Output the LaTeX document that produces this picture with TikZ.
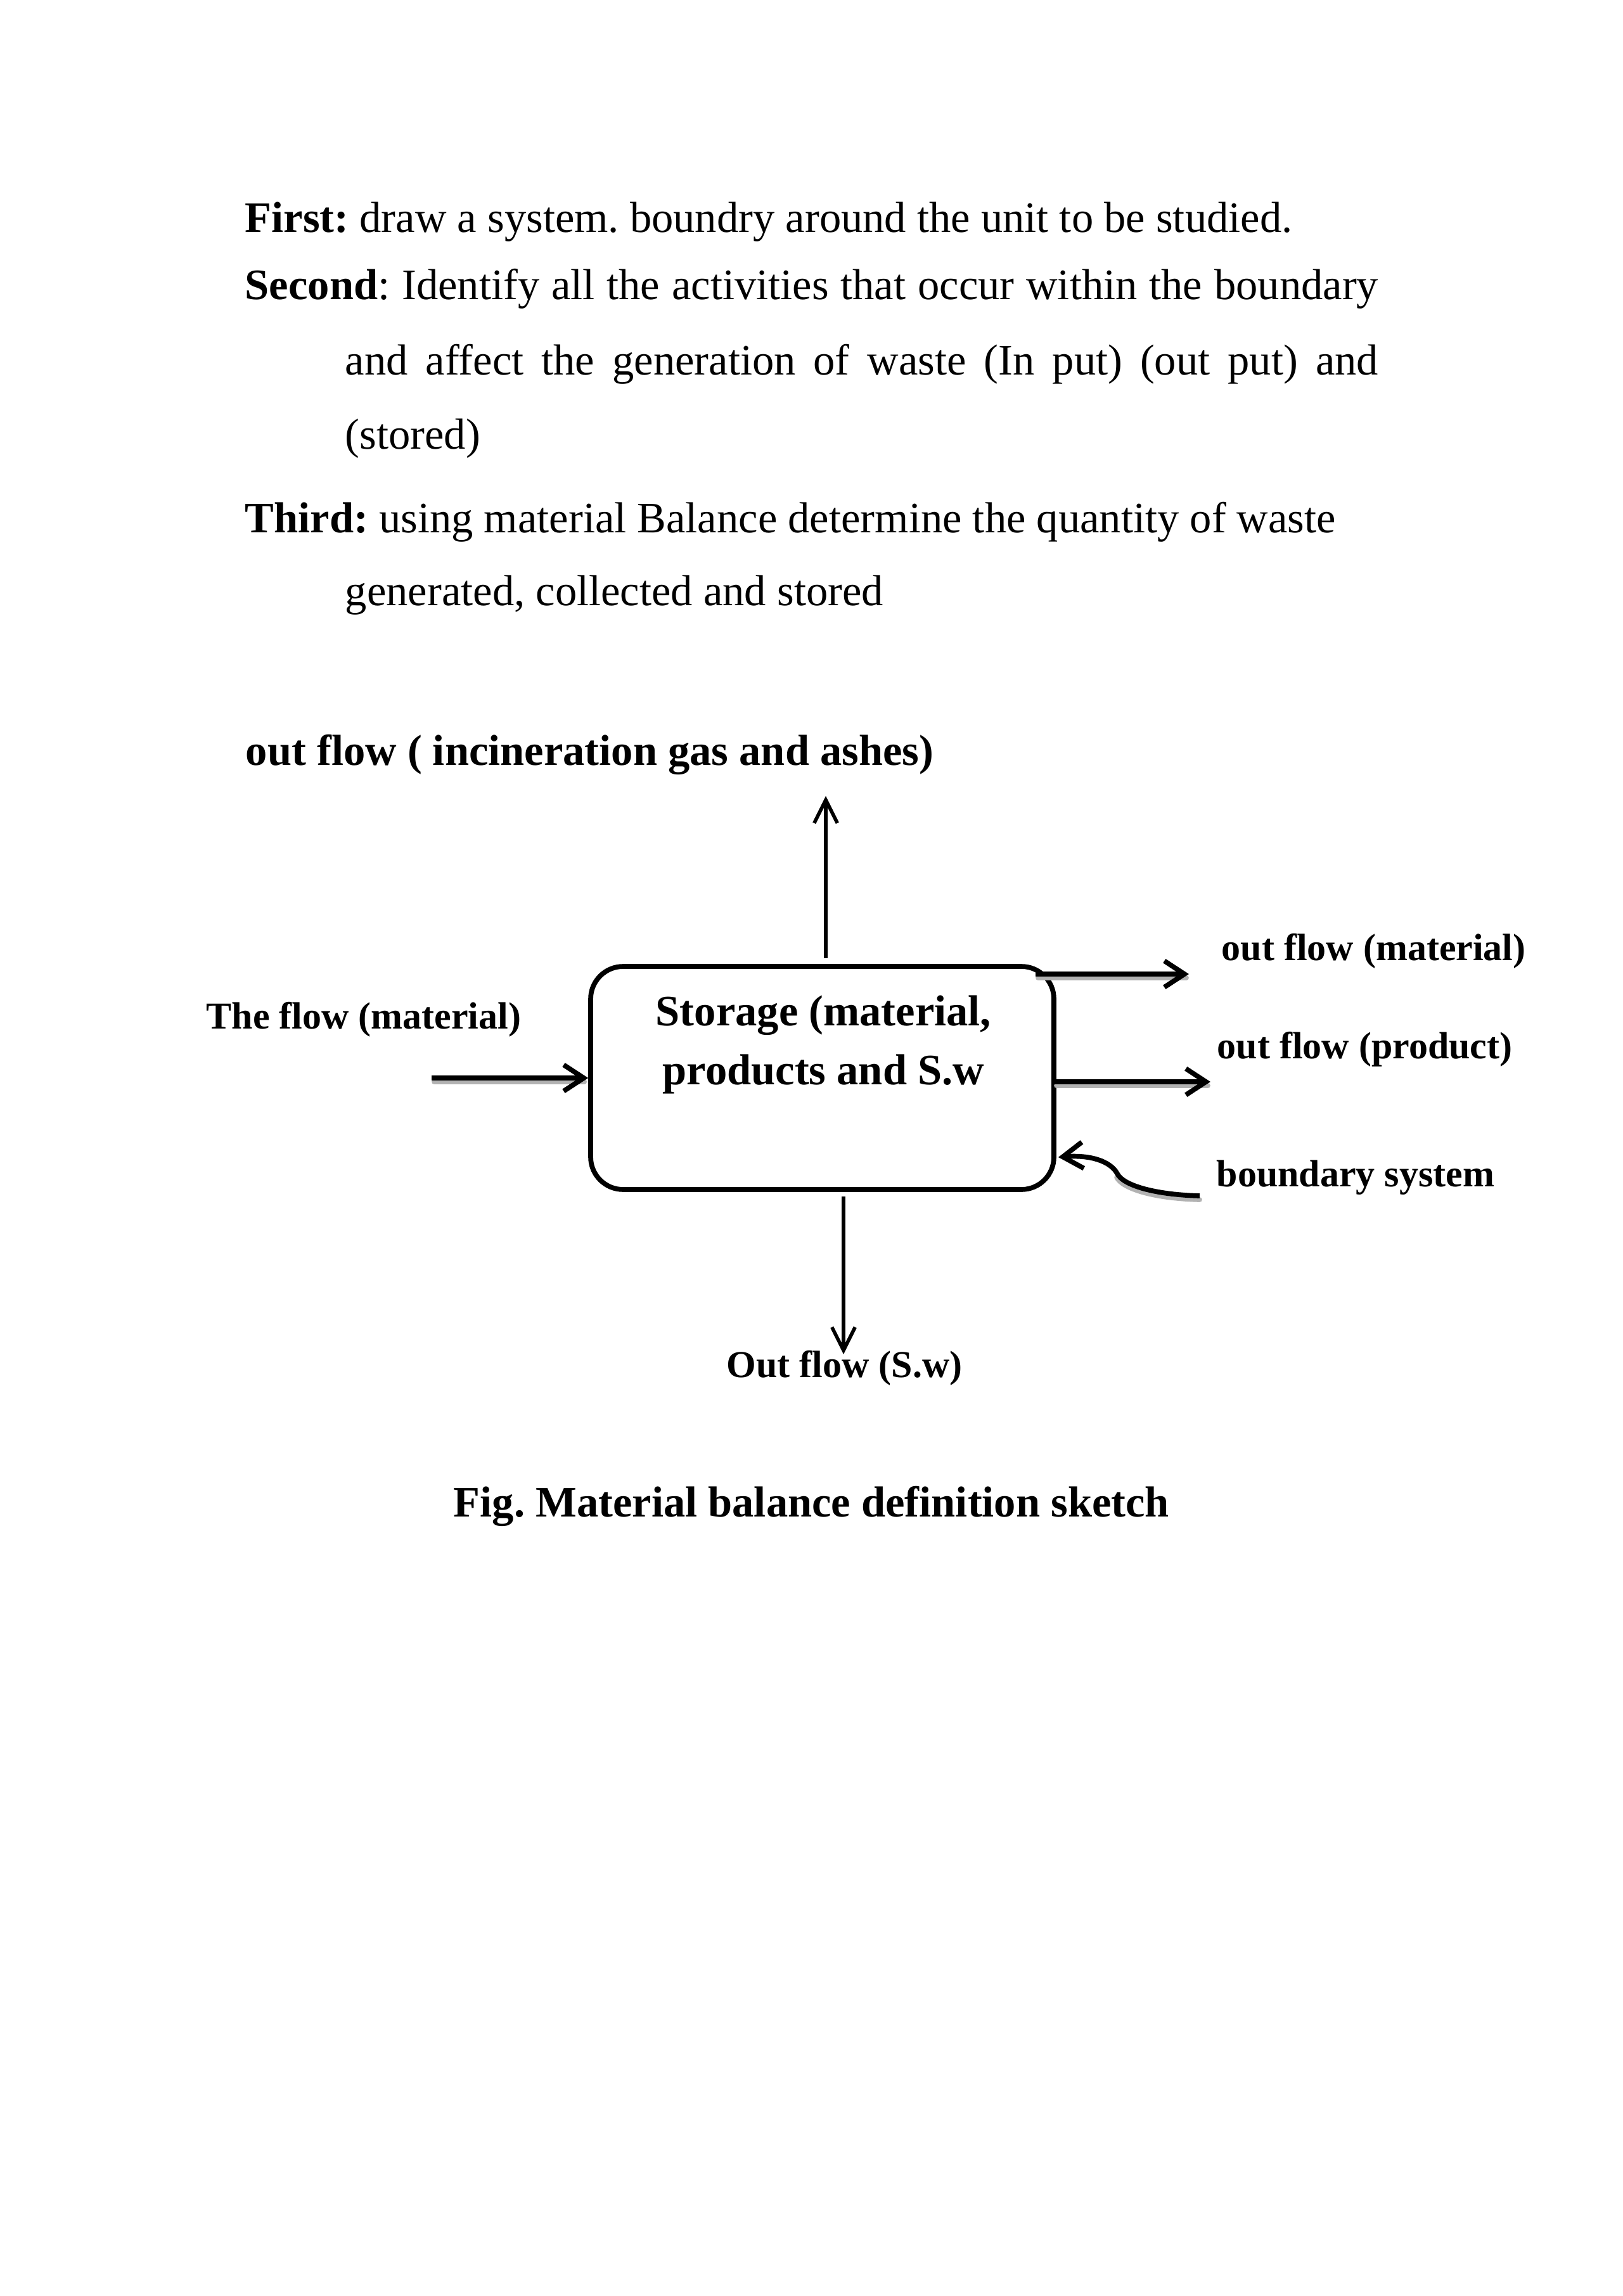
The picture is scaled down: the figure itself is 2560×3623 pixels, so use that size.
\documentclass[tikz,border=0pt]{standalone}
\usepackage{fontspec}
\setmainfont{Liberation Serif}
\usetikzlibrary{arrows.meta}
\frenchspacing
\begin{document}
\begin{tikzpicture}[x=0.08203mm, y=-0.08203mm,
  body/.style={anchor=base west, inner sep=0pt, font=\fontsize{16}{19}\selectfont},
  lab/.style={anchor=base west, inner sep=0pt, font=\fontsize{14}{17}\selectfont\bfseries},
  bigl/.style={anchor=base west, inner sep=0pt, font=\fontsize{16}{19}\selectfont\bfseries},
  boxst/.style={draw, line width=1.8pt, rounded corners=4.2mm, minimum width=59.96mm, minimum height=28.87mm, inner sep=0pt},
  thick arrow/.style={line width=1.8pt, -{Straight Barb[length=2.6mm, width=3.4mm, line width=1.8pt]}},
  thin arrow/.style={line width=1.3pt, -{Straight Barb[length=3.0mm, width=3.0mm, line width=1.3pt]}},
  shade/.style={line width=1.8pt, draw=black!30, line cap=round}
]
\useasboundingbox[fill=white] (0,0) rectangle (2560,3623);

% ---- paragraph text ----
\node[body] (t1) at (386,367) {\textbf{First:} draw a system. boundry around the unit to be studied.};
\node[body] (t2) at (386,473) {\makebox[146.67mm][s]{\textbf{Second}: Identify all the activities that occur within the boundary}};
\node[body] (t3) at (544,592) {\makebox[133.71mm][s]{and affect the generation of waste (In put) (out put) and}};
\node[body] (t4) at (544,709) {(stored)};
\node[body] (t5) at (386,840) {\textbf{Third:} using material Balance determine the quantity of waste};
\node[body] (t6) at (544,955) {generated, collected and stored};

% ---- diagram ----
\node[bigl] (gas) at (387,1207) {out flow ( incineration gas and ashes)};
\node[boxst] (box) at (1297.5,1701) {};
\node[bigl] (st1) at (1034,1618) {Storage (material,};
\node[bigl] (st2) at (1045,1711) {products and S.w};

\node[lab] (inlab) at (325,1623) {The flow (material)};
\node[lab] (omat) at (1927,1515) {out flow (material)};
\node[lab] (oprod) at (1920,1670) {out flow (product)};
\node[lab] (bsys) at (1919,1872) {boundary system};
\node[lab] (osw) at (1146,2173) {Out flow (S.w)};

\node[bigl] (cap) at (715,2393) {Fig. Material balance definition sketch};

\coordinate (upA) at (1303,1512);
\coordinate (upB) at (1303,1256);
\coordinate (dnA) at (1331,1888);
\coordinate (dnB) at (1331,2137);
\coordinate (inA) at (681,1701);
\coordinate (omA) at (1634,1537);
\coordinate (omB) at (1876,1537);
\coordinate (opA) at (1663,1707);
\coordinate (opB) at (1910,1707);
\coordinate (bsA) at (1893,1887);
\coordinate (bsB) at (1670,1826);

% shadows
\draw[shade] ([shift={(4,6)}]inA) -- ([shift={(-6,6)}]box.west);
\draw[shade] ([shift={(4,6)}]omA) -- ([shift={(-4,6)}]omB);
\draw[shade] ([shift={(4,6)}]opA) -- ([shift={(-4,6)}]opB);
\draw[shade] ([shift={(0,6)}]bsA) .. controls (1820,1891) and (1772,1876) .. (1762,1858);

% arrows
\draw[thin arrow] (upA) -- (upB);
\draw[thin arrow] (dnA) -- (dnB);
\draw[thick arrow] (inA) -- (box.west);
\draw[thick arrow] (omA) -- (omB);
\draw[thick arrow] (opA) -- (opB);
\draw[thick arrow] (bsA) .. controls (1820,1885) and (1772,1870) .. (1763,1852)
   .. controls (1752,1832) and (1720,1822) .. (bsB);
\end{tikzpicture}
\end{document}
